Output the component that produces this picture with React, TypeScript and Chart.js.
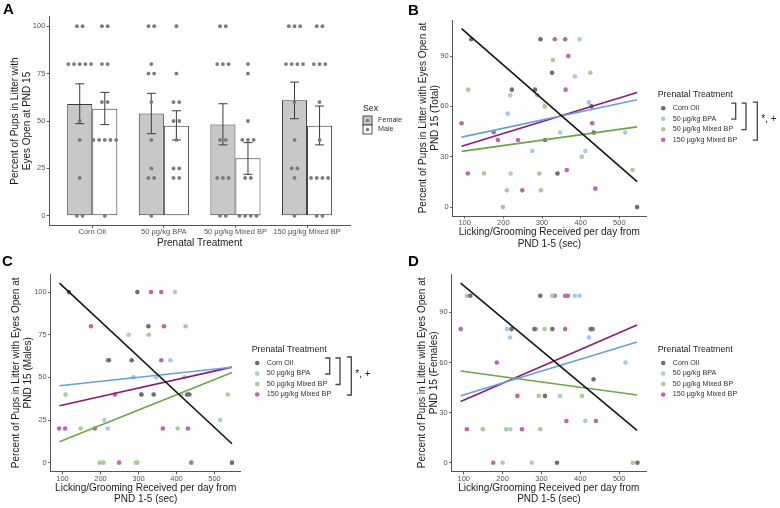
import React, { useEffect, useRef } from 'react';
import { Chart, registerables } from 'chart.js';

Chart.register(...registerables);

const FONT = '"Liberation Sans", Arial, Helvetica, sans-serif';
Chart.defaults.font.family = FONT;

// ---------- Panel A data ----------
const treatments = ['Corn Oil', '50 µg/kg BPA', '50 µg/kg Mixed BP', '150 µg/kg Mixed BP'];
const femaleMeans = [58.9, 54.0, 48.2, 60.9];
const maleMeans = [56.5, 47.5, 30.4, 47.5];
const femaleErrLow = [48.6, 43.3, 37.4, 51.2];
const femaleErrHigh = [69.6, 64.6, 59.1, 70.5];
const maleErrLow = [48.1, 40.0, 21.9, 37.4];
const maleErrHigh = [65.1, 55.4, 38.6, 57.9];
const femaleLitters = [
  [100, 100, 80, 80, 80, 80, 80, 50, 40, 20, 0, 0],
  [100, 100, 80, 75, 75, 60, 40, 25, 20, 20, 0],
  [100, 100, 80, 80, 80, 40, 40, 20, 20, 20, 0, 0],
  [100, 100, 100, 80, 80, 80, 80, 60, 40, 25, 25, 20, 0],
];
const maleLitters = [
  [100, 100, 80, 80, 60, 60, 40, 40, 40, 40, 40, 0],
  [100, 75, 60, 60, 50, 50, 40, 25, 25, 20, 20],
  [80, 75, 50, 40, 40, 40, 20, 20, 0, 0, 0, 0],
  [100, 100, 80, 80, 80, 60, 40, 20, 20, 20, 20, 0, 0],
];
const sexLabels = ['Female', 'Male'];

// ---------- Panels B-D data ----------
const seriesNames = ['Corn Oil', '50 µg/kg BPA', '50 µg/kg Mixed BP', '150 µg/kg Mixed BP'];
const xTickValues = [100, 200, 300, 400, 500];
const lgRange = [92, 546];

// B: Total  [licking/grooming sec, percent]
const totalCornOil = [[117, 100], [296, 100], [326, 80], [222, 70], [282, 70], [428, 60], [434, 44.4], [308, 40], [340, 20], [546, 0]];
const totalBPA = [[397, 100], [385, 77.8], [218, 66.7], [421, 62.4], [211, 55.7], [347, 44.4], [515, 44.4], [275, 33.4], [412, 33.4], [219, 20]];
const totalMixed = [[109, 70], [150, 20], [199, 0], [209, 10], [288, 66.7], [293, 20], [297, 10], [307, 60], [328, 87.7], [403, 30], [425, 80], [534, 22.1]];
const total150 = [[333, 100], [360, 100], [368, 90], [361, 70], [92, 50], [430, 50], [175, 44.6], [186, 40], [238, 40], [108, 20], [364, 22.1], [249, 10], [438, 11]];
const totalFitStart = [106.4, 41.7, 33.2, 36.3];
const totalFitEnd = [15.2, 64.0, 47.8, 68.3];

// C: Males
const malesCornOil = [[117, 100], [297, 100], [326, 80], [222, 60], [282, 60], [308, 40], [340, 40], [428, 40], [434, 40], [546, 0]];
const malesBPA = [[396, 100], [274, 75], [218, 60], [384, 60], [347, 50], [421, 50], [412, 40], [210, 25], [515, 25], [219, 20]];
const malesMixed = [[108, 40], [148, 20], [198, 0], [208, 0], [287, 50], [293, 0], [297, 0], [307, 40], [327, 75], [403, 20], [424, 80], [535, 40]];
const males150 = [[333, 100], [360, 100], [175, 80], [367, 80], [360, 60], [238, 40], [91, 20], [107, 20], [185, 20], [364, 20], [430, 20], [249, 0], [439, 0]];
const malesFitStart = [105.3, 45.1, 12.3, 33.4];
const malesFitEnd = [11.1, 55.9, 52.9, 56.0];

// D: Females
const femalesCornOil = [[117, 100], [297, 100], [223, 80], [282, 80], [328, 80], [428, 80], [434, 50], [309, 40], [340, 0], [547, 0]];
const femalesBPA = [[386, 100], [398, 100], [211, 80], [219, 75], [422, 75], [516, 60], [348, 40], [413, 25], [220, 20], [275, 0]];
const femalesMixed = [[108, 100], [328, 100], [286, 80], [308, 80], [425, 80], [293, 40], [404, 40], [149, 20], [209, 20], [297, 20], [200, 0], [535, 0]];
const females150 = [[334, 100], [361, 100], [368, 100], [92, 80], [361, 80], [432, 80], [185, 60], [238, 40], [364, 25], [440, 25], [108, 20], [250, 20], [176, 0]];
const femalesFitStart = [107.6, 40.1, 54.9, 36.7];
const femalesFitEnd = [19.4, 72.3, 40.5, 82.4];

// ---------- styles ----------
const pointColors = ['#6e6e6e', '#a8c8ec', '#a8cc95', '#b76aae'];
const lineColors = ['#151515', '#6a9ed9', '#6aa64a', '#8c1c73'];
const axisColor = '#555555';
const tickColor = '#555555';
const titleColor = '#1a1a1a';
const tickFont = { family: FONT, size: 7.5, lineHeight: 1.2 };
const titleFont = { family: FONT, size: 10, lineHeight: 1.17 };

function fixedTicks(values: number[]) {
  return (s: any) => {
    s.ticks = values.map((v) => ({ value: v }));
  };
}

function yAxis(min: number, max: number, ticks: number[], title: string[], padTop: number, width: number) {
  return {
    type: 'linear',
    position: 'left',
    min,
    max,
    afterBuildTicks: fixedTicks(ticks),
    afterFit: (s: any) => {
      s.width = width;
    },
    border: { display: true, color: axisColor, width: 1 },
    grid: { display: true, drawOnChartArea: false, drawTicks: true, tickLength: 2.5, color: axisColor },
    ticks: { color: tickColor, font: tickFont, padding: 1.5 },
    title: { display: true, text: title, color: titleColor, font: titleFont, padding: { top: padTop, bottom: 0 } },
  };
}

function xAxis(min: number, max: number, ticks: number[], title: string | string[], padBottom: number, height: number, cb?: any) {
  return {
    type: 'linear',
    position: 'bottom',
    min,
    max,
    offset: false,
    afterBuildTicks: fixedTicks(ticks),
    afterFit: (s: any) => {
      s.height = height;
    },
    border: { display: true, color: axisColor, width: 1 },
    grid: { display: true, drawOnChartArea: false, drawTicks: true, tickLength: 2.5, color: axisColor, offset: false },
    ticks: { color: tickColor, font: tickFont, padding: 0, maxRotation: 0, minRotation: 0, autoSkip: false, ...(cb ? { callback: cb } : {}) },
    title: { display: true, text: title, color: titleColor, font: titleFont, padding: { top: 0, bottom: padBottom } },
  };
}

function drawLetter(ctx: CanvasRenderingContext2D, letter: string, x: number, y: number) {
  ctx.font = `bold 15px ${FONT}`;
  ctx.fillStyle = '#000';
  ctx.textAlign = 'left';
  ctx.textBaseline = 'alphabetic';
  ctx.fillText(letter, x, y);
}

// ---------- Panel A plugin ----------
const panelAPlugin = {
  id: 'panelADecor',
  afterDatasetsDraw(chart: any) {
    const ctx: CanvasRenderingContext2D = chart.ctx;
    const y = chart.scales.y;
    const groups = [
      { meta: chart.getDatasetMeta(0), lo: femaleErrLow, hi: femaleErrHigh, dots: femaleLitters },
      { meta: chart.getDatasetMeta(1), lo: maleErrLow, hi: maleErrHigh, dots: maleLitters },
    ];
    ctx.save();
    const area = chart.chartArea;
    ctx.beginPath();
    ctx.rect(area.left, area.top - 5, area.right - area.left, area.bottom - area.top + 5);
    ctx.clip();
    groups.forEach((g) => {
      g.meta.data.forEach((el: any, j: number) => {
        const cx = el.x;
        // error bar
        ctx.strokeStyle = '#3a3a3a';
        ctx.lineWidth = 1;
        const yl = y.getPixelForValue(g.lo[j]);
        const yh = y.getPixelForValue(g.hi[j]);
        ctx.beginPath();
        ctx.moveTo(cx, yl);
        ctx.lineTo(cx, yh);
        ctx.moveTo(cx - 4.5, yl);
        ctx.lineTo(cx + 4.5, yl);
        ctx.moveTo(cx - 4.5, yh);
        ctx.lineTo(cx + 4.5, yh);
        ctx.stroke();
        // stacked dots
        const counts = new Map<number, number>();
        g.dots[j].forEach((v) => counts.set(v, (counts.get(v) || 0) + 1));
        ctx.fillStyle = '#7a7a7a';
        counts.forEach((k, v) => {
          const py = y.getPixelForValue(v);
          for (let i = 0; i < k; i++) {
            const px = cx + (i - (k - 1) / 2) * 5.7;
            ctx.beginPath();
            ctx.arc(px, py, 1.9, 0, Math.PI * 2);
            ctx.fill();
          }
        });
      });
    });
    ctx.restore();
  },
  afterDraw(chart: any) {
    const ctx: CanvasRenderingContext2D = chart.ctx;
    ctx.save();
    drawLetter(ctx, 'A', 3, 14);
    // legend
    ctx.textAlign = 'left';
    ctx.textBaseline = 'middle';
    ctx.fillStyle = titleColor;
    ctx.font = `8.8px ${FONT}`;
    ctx.fillText('Sex', 363, 109);
    const fills = ['#c8c8c8', '#ffffff'];
    sexLabels.forEach((lab, i) => {
      const top = 116 + i * 9;
      ctx.fillStyle = fills[i];
      ctx.fillRect(363, top, 9, 9);
      ctx.strokeStyle = '#3a3a3a';
      ctx.lineWidth = 0.9;
      ctx.strokeRect(363, top, 9, 9);
      ctx.fillStyle = '#7a7a7a';
      ctx.beginPath();
      ctx.arc(367.5, top + 4.5, 1.7, 0, Math.PI * 2);
      ctx.fill();
      ctx.fillStyle = '#333';
      ctx.font = `7.2px ${FONT}`;
      ctx.fillText(lab, 378, top + 4.5);
    });
    ctx.restore();
  },
};

function panelAConfig() {
  const W = 410;
  const H = 250;
  const area = { left: 49.3, top: 16.7, right: 350, bottom: 225.3 };
  return {
    type: 'bar',
    data: {
      datasets: [
        {
          label: sexLabels[0],
          data: femaleMeans.map((v, i) => ({ x: i + 1, y: v })),
          backgroundColor: '#c8c8c8',
          borderColor: '#3a3a3a',
          borderWidth: 1,
          borderSkipped: false,
          categoryPercentage: 0.7,
          barPercentage: 1,
        },
        {
          label: sexLabels[1],
          data: maleMeans.map((v, i) => ({ x: i + 1, y: v })),
          backgroundColor: '#ffffff',
          borderColor: '#3a3a3a',
          borderWidth: 1,
          borderSkipped: false,
          categoryPercentage: 0.7,
          barPercentage: 1,
        },
      ],
    },
    options: {
      animation: false,
      responsive: false,
      devicePixelRatio: 1,
      layout: { padding: { left: 0, top: area.top, right: W - area.right, bottom: 0 } },
      plugins: { legend: { display: false }, tooltip: { enabled: false } },
      scales: {
        x: xAxis(0.4, 4.6, [1, 2, 3, 4], 'Prenatal Treatment', 1.2, H - area.bottom, (v: any) => treatments[Math.round(v) - 1]),
        y: yAxis(-5, 105, [0, 25, 50, 75, 100], ['Percent of Pups in Litter with', 'Eyes Open at PND 15'], 9.45, area.left),
      },
    },
    plugins: [panelAPlugin],
  };
}

// ---------- scatter panels ----------
const scatterPlugin = {
  id: 'scatterDecor',
  afterDraw(chart: any, _args: any, o: any) {
    const ctx: CanvasRenderingContext2D = chart.ctx;
    ctx.save();
    drawLetter(ctx, o.letter, o.letterX, o.letterY);
    ctx.textAlign = 'left';
    ctx.textBaseline = 'middle';
    ctx.fillStyle = titleColor;
    ctx.font = `8.8px ${FONT}`;
    ctx.fillText('Prenatal Treatment', o.legendX, o.titleY);
    const itemY = (i: number) => o.itemY + i * 10.5;
    seriesNames.forEach((name, i) => {
      ctx.fillStyle = pointColors[i];
      ctx.beginPath();
      ctx.arc(o.legendX + 5.5, itemY(i), 2.3, 0, Math.PI * 2);
      ctx.fill();
      ctx.fillStyle = '#333';
      ctx.font = `7.2px ${FONT}`;
      ctx.fillText(name, o.legendX + 15, itemY(i));
    });
    if (o.brackets) {
      ctx.strokeStyle = '#444';
      ctx.lineWidth = 1.3;
      const xs = [78, 88.3, 99.6];
      xs.forEach((dx, k) => {
        const x = o.legendX + dx;
        const t = itemY(0) - (k === 2 ? 6 : 5);
        const b = itemY(k + 1) + 0.5;
        ctx.beginPath();
        ctx.moveTo(x - 4.5, t);
        ctx.lineTo(x, t);
        ctx.lineTo(x, b);
        ctx.lineTo(x - 4.5, b);
        ctx.stroke();
      });
      ctx.fillStyle = '#222';
      ctx.font = `10px ${FONT}`;
      ctx.fillText('*, +', o.legendX + 103.6, (itemY(0) + itemY(3)) / 2 - 4.5);
    }
    ctx.restore();
  },
};

type ScatterSpec = {
  W: number;
  H: number;
  area: { left: number; top: number; right: number; bottom: number };
  groups: number[][][];
  fitStart: number[];
  fitEnd: number[];
  yMin: number;
  yMax: number;
  yTicks: number[];
  yTitle: string[];
  yTitlePad: number;
  xTitlePad: number;
  decor: any;
};

function scatterConfig(p: ScatterSpec) {
  const datasets: any[] = [];
  p.fitStart.forEach((s, i) => {
    datasets.push({
      label: seriesNames[i] + ' fit',
      data: [
        { x: lgRange[0], y: s },
        { x: lgRange[1], y: p.fitEnd[i] },
      ],
      showLine: true,
      pointRadius: 0,
      borderColor: lineColors[i],
      backgroundColor: lineColors[i],
      borderWidth: 1.6,
      fill: false,
      order: 0,
    });
  });
  p.groups.forEach((g, i) => {
    datasets.push({
      label: seriesNames[i],
      data: g.map(([x, y]) => ({ x, y })),
      showLine: false,
      pointRadius: 2.3,
      pointBackgroundColor: pointColors[i],
      pointBorderColor: pointColors[i],
      pointBorderWidth: 0,
      order: 1,
    });
  });
  return {
    type: 'scatter',
    data: { datasets },
    options: {
      animation: false,
      responsive: false,
      devicePixelRatio: 1,
      layout: { padding: { left: 0, top: p.area.top, right: p.W - p.area.right, bottom: 0 } },
      plugins: { legend: { display: false }, tooltip: { enabled: false }, scatterDecor: p.decor },
      scales: {
        x: xAxis(69, 569, xTickValues, ['Licking/Grooming Received per day from', 'PND 1-5 (sec)'], p.xTitlePad, p.H - p.area.bottom),
        y: yAxis(p.yMin, p.yMax, p.yTicks, p.yTitle, p.yTitlePad, p.area.left),
      },
    },
    plugins: [scatterPlugin],
  };
}

const panelBConfig = () =>
  scatterConfig({
    W: 390,
    H: 250,
    area: { left: 62.7, top: 20, right: 256, bottom: 216 },
    groups: [totalCornOil, totalBPA, totalMixed, total150],
    fitStart: totalFitStart,
    fitEnd: totalFitEnd,
    yMin: -5.3,
    yMax: 111.5,
    yTicks: [0, 30, 60, 90],
    yTitle: ['Percent of Pups in Litter with Eyes Open at', 'PND 15 (Total)'],
    yTitlePad: 27.45,
    xTitlePad: 0,
    decor: { letter: 'B', letterX: 18, letterY: 15, legendX: 267.7, titleY: 94.7, itemY: 108.2, brackets: true },
  });

const panelCConfig = () =>
  scatterConfig({
    W: 390,
    H: 258,
    area: { left: 50.7, top: 24, right: 240.7, bottom: 221.7 },
    groups: [malesCornOil, malesBPA, malesMixed, males150],
    fitStart: malesFitStart,
    fitEnd: malesFitEnd,
    yMin: -5.3,
    yMax: 110.6,
    yTicks: [0, 25, 50, 75, 100],
    yTitle: ['Percent of Pups in Litter with Eyes Open at', 'PND 15 (Males)'],
    yTitlePad: 10.85,
    xTitlePad: 2.45,
    decor: { letter: 'C', letterX: 2, letterY: 16, legendX: 251.7, titleY: 99.5, itemY: 113, brackets: true },
  });

const panelDConfig = () =>
  scatterConfig({
    W: 390,
    H: 258,
    area: { left: 61.7, top: 24, right: 256, bottom: 221.7 },
    groups: [femalesCornOil, femalesBPA, femalesMixed, females150],
    fitStart: femalesFitStart,
    fitEnd: femalesFitEnd,
    yMin: -5.4,
    yMax: 113,
    yTicks: [0, 30, 60, 90],
    yTitle: ['Percent of Pups in Litter with Eyes Open at', 'PND 15 (Females)'],
    yTitlePad: 26.45,
    xTitlePad: 2.45,
    decor: { letter: 'D', letterX: 18, letterY: 15.7, legendX: 267.7, titleY: 99.5, itemY: 113, brackets: false },
  });

type CanvasProps = { left: number; top: number; width: number; height: number; make: () => any };

function ChartCanvas({ left, top, width, height, make }: CanvasProps) {
  const ref = useRef<HTMLCanvasElement | null>(null);
  useEffect(() => {
    if (!ref.current) return;
    const chart = new Chart(ref.current, make());
    return () => chart.destroy();
  }, [make]);
  return (
    <canvas
      ref={ref}
      width={width}
      height={height}
      style={{ position: 'absolute', left, top, width, height, display: 'block' }}
    />
  );
}

export default function App() {
  return (
    <div
      style={{
        position: 'fixed',
        left: 0,
        top: 0,
        width: 780,
        height: 508,
        background: '#ffffff',
        overflow: 'hidden',
      }}
    >
      <ChartCanvas left={0} top={0} width={410} height={250} make={panelAConfig} />
      <ChartCanvas left={390} top={0} width={390} height={250} make={panelBConfig} />
      <ChartCanvas left={0} top={250} width={390} height={258} make={panelCConfig} />
      <ChartCanvas left={390} top={250} width={390} height={258} make={panelDConfig} />
    </div>
  );
}
